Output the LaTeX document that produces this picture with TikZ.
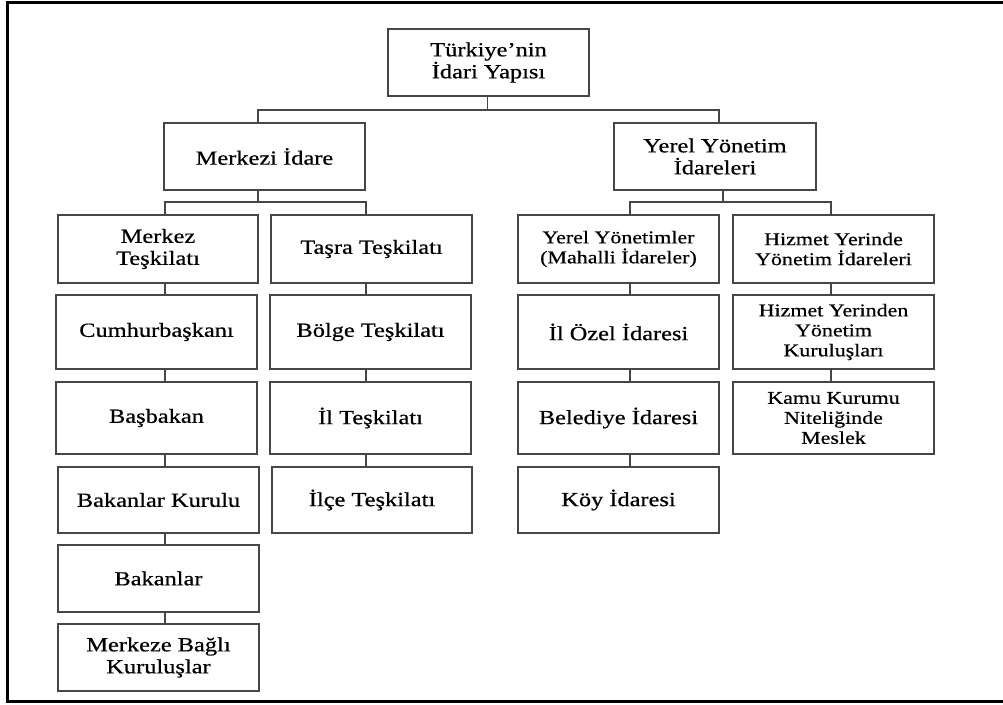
\documentclass[tikz,border=0pt]{standalone}
\usepackage{fontspec}
\setmainfont[FakeStretch=1.22,FakeBold=0.6]{Liberation Serif}
\begin{document}
\begin{tikzpicture}[x=1pt,y=-1pt,
  box/.style={draw=boxgray,line width=1.8pt,rectangle,inner sep=0pt,align=center,
    text=black,font=\fontsize{20}{22}\selectfont},
  smalltext/.style={font=\fontsize{18}{20}\selectfont},
  conn/.style={draw=boxgray,line width=1.8pt}]
\definecolor{boxgray}{RGB}{70,70,70}
\useasboundingbox (0,0) rectangle (1003,704);
\fill[white] (0,0) rectangle (1003,704);
\draw[line width=3pt,black] (1003,2) -- (7.5,2) -- (7.5,701.5) -- (1003,701.5);

% nodes
\node[box,minimum width=201pt,minimum height=67pt] (top) at (488.5,62.5) {Türkiye’nin\\İdari Yapısı};
\node[box,minimum width=201pt,minimum height=67pt] (merkezi) at (264.5,156.5) {Merkezi İdare};
\node[box,minimum width=202pt,minimum height=67pt] (yerel) at (715,156.5) {Yerel Yönetim\\İdareleri};

\node[box,minimum width=200pt,minimum height=68pt] (merkez) at (158,249) {Merkez\\Teşkilatı};
\node[box,minimum width=201pt,minimum height=68pt] (tasra) at (371.5,249) {Taşra Teşkilatı};
\node[box,smalltext,minimum width=201pt,minimum height=68pt] (yy) at (618.5,249) {Yerel Yönetimler\\(Mahalli İdareler)};
\node[box,smalltext,minimum width=201pt,minimum height=68pt] (hyi) at (833.5,249) {Hizmet Yerinde\\Yönetim İdareleri};

\node[box,minimum width=201pt,minimum height=74pt] (cumhur) at (156.5,332) {Cumhurbaşkanı};
\node[box,minimum width=201pt,minimum height=72pt] (basbakan) at (156.5,418) {Başbakan};
\node[box,minimum width=201pt,minimum height=66pt] (bkurulu) at (158.5,500) {Bakanlar Kurulu};
\node[box,minimum width=201pt,minimum height=67pt] (bakanlar) at (158.5,578.5) {Bakanlar};
\node[box,minimum width=201pt,minimum height=67pt] (mbk) at (158.5,657.5) {Merkeze Bağlı\\Kuruluşlar};

\node[box,minimum width=201pt,minimum height=74pt] (bolge) at (370.5,332) {Bölge Teşkilatı};
\node[box,minimum width=201pt,minimum height=72pt] (il) at (370.5,418) {İl Teşkilatı};
\node[box,minimum width=200pt,minimum height=66pt] (ilce) at (372,500) {İlçe Teşkilatı};

\node[box,minimum width=201pt,minimum height=74pt] (ilozel) at (618.5,332) {İl Özel İdaresi};
\node[box,minimum width=201pt,minimum height=72pt] (belediye) at (618.5,418) {Belediye İdaresi};
\node[box,minimum width=201pt,minimum height=66pt] (koy) at (618.5,500) {Köy İdaresi};

\node[box,smalltext,minimum width=201pt,minimum height=74pt] (hyk) at (833.5,332) {Hizmet Yerinden\\Yönetim\\Kuruluşları};
\node[box,smalltext,minimum width=201pt,minimum height=72pt] (kamu) at (833.5,418) {Kamu Kurumu\\Niteliğinde\\Meslek};

% connector guide coordinates
\coordinate (b1) at (487.5,110);
\coordinate (cM) at (258,0);
\coordinate (cY) at (719,0);
\coordinate (b2) at (258,202);
\coordinate (b3) at (723,202);
\coordinate (cA) at (165,0);
\coordinate (cB) at (366,0);
\coordinate (cC) at (630,0);
\coordinate (cD) at (831,0);

% top level
\draw[conn] (top.south -| b1) -- (b1);
\draw[conn] (merkezi.north -| cM) |- (b1) -| (yerel.north -| cY);
% second level
\draw[conn] (merkezi.south -| b2) -- (b2);
\draw[conn] (merkez.north -| cA) |- (b2) -| (tasra.north -| cB);
\draw[conn] (yerel.south -| b3) -- (b3);
\draw[conn] (yy.north -| cC) |- (b3) -| (hyi.north -| cD);
% columns
\draw[conn] (merkez.south -| cA) -- (cumhur.north -| cA);
\draw[conn] (cumhur.south -| cA) -- (basbakan.north -| cA);
\draw[conn] (basbakan.south -| cA) -- (bkurulu.north -| cA);
\draw[conn] (bkurulu.south -| cA) -- (bakanlar.north -| cA);
\draw[conn] (bakanlar.south -| cA) -- (mbk.north -| cA);

\draw[conn] (tasra.south -| cB) -- (bolge.north -| cB);
\draw[conn] (bolge.south -| cB) -- (il.north -| cB);
\draw[conn] (il.south -| cB) -- (ilce.north -| cB);

\draw[conn] (yy.south -| cC) -- (ilozel.north -| cC);
\draw[conn] (ilozel.south -| cC) -- (belediye.north -| cC);
\draw[conn] (belediye.south -| cC) -- (koy.north -| cC);

\draw[conn] (hyi.south -| cD) -- (hyk.north -| cD);
\draw[conn] (hyk.south -| cD) -- (kamu.north -| cD);
\end{tikzpicture}
\end{document}
